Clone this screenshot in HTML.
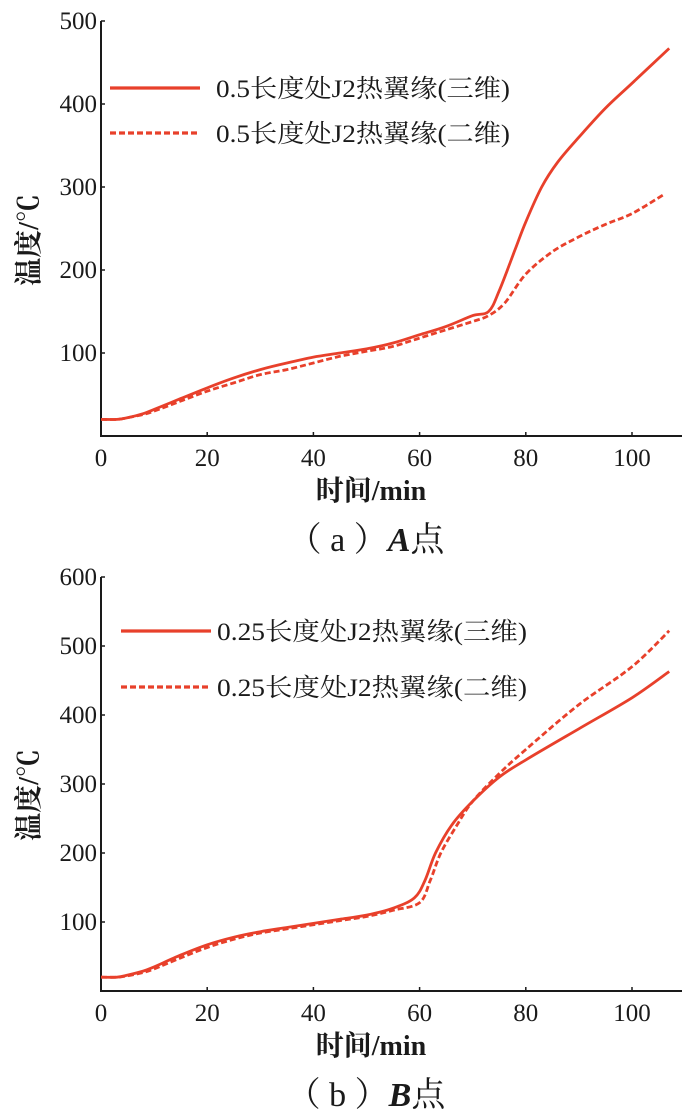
<!DOCTYPE html>
<html><head><meta charset="utf-8"><style>
body{margin:0;background:#fff;width:700px;height:1118px;overflow:hidden}
svg{display:block}
text{font-family:"Liberation Serif","Noto Serif CJK SC",serif;fill:#1a1a1a}
</style></head><body>
<svg id="c" width="700" height="1118"></svg>
<script>
const xTicks=[0,20,40,60,80,100];
const aYTicks=[100,200,300,400,500];
const bYTicks=[100,200,300,400,500,600];
const aT3=[0,3,5,8,10,15,20,25,30,35,40,45,50,55,60,65,70,73,75,78,80,83,86,90,95,100,107];
const aV3=[20,20,22,27,32,45,58,70,80,88,95,100,105,112,122,132,145,150,175,225,258,300,330,360,395,425,467];
const aT2=[0,3,5,8,10,15,20,25,30,35,40,45,50,55,60,65,70,73,76,80,85,90,95,100,106];
const aV2=[20,20,22,26,30,42,54,64,74,80,88,96,102,108,118,128,138,145,160,195,222,240,255,268,291];
const bT3=[0,3,5,8,10,15,20,25,30,35,40,45,50,55,59,61,63,66,70,75,80,90,100,107];
const bV3=[20,20,23,29,35,52,67,78,86,92,98,104,110,120,135,160,200,240,275,310,335,380,425,463];
const bT2=[0,3,5,8,10,15,20,25,30,35,40,45,50,55,60,62,64,67,70,75,80,90,100,107];
const bV2=[20,20,22,27,32,48,63,75,84,90,96,102,108,117,128,160,200,240,275,315,350,415,470,522];
const NS="http://www.w3.org/2000/svg";
const svg=document.getElementById('c');
const RED="#e8402b";
function mk(tag,attrs,parent){const e=document.createElementNS(NS,tag);for(const k in attrs)e.setAttribute(k,attrs[k]);(parent||svg).appendChild(e);return e;}
function smooth(pts){
  let d='M'+pts[0][0].toFixed(1)+' '+pts[0][1].toFixed(1);
  for(let i=0;i<pts.length-1;i++){
    const p0=pts[i-1]||pts[i],p1=pts[i],p2=pts[i+1],p3=pts[i+2]||p2;
    const c1=[p1[0]+(p2[0]-p0[0])/6,p1[1]+(p2[1]-p0[1])/6];
    const c2=[p2[0]-(p3[0]-p1[0])/6,p2[1]-(p3[1]-p1[1])/6];
    d+=` C${c1[0].toFixed(1)} ${c1[1].toFixed(1)} ${c2[0].toFixed(1)} ${c2[1].toFixed(1)} ${p2[0].toFixed(1)} ${p2[1].toFixed(1)}`;
  }
  return d;
}
function panel(cfg){
  const g=mk('g',{});
  
  
  const X=v=>101+v*5.31;
  const Y=v=>cfg.y0-(v/100)*cfg.py;
  const ax=mk('path',{d:`M101 ${Y(cfg.ymax)} V${cfg.y0} H682`,stroke:'#1a1a1a','stroke-width':2,fill:'none'},g);
  
  
  xTicks.forEach(t=>{
    mk('line',{x1:X(t),x2:X(t),y1:cfg.y0,y2:cfg.y0-4,stroke:'#1a1a1a','stroke-width':1.5},g);
    const tx=mk('text',{x:X(t),y:cfg.y0+30,'text-anchor':'middle','font-size':25},g);
    tx.textContent=t;
    
    
  });
  cfg.yTicks.forEach(t=>{
    mk('line',{x1:101,x2:105,y1:Y(t),y2:Y(t),stroke:'#1a1a1a','stroke-width':1.5},g);
    const tx=mk('text',{x:97,y:Y(t)+8,'text-anchor':'end','font-size':25},g);
    tx.textContent=t;
    
    
  });
  function line(ts,vs,dash,nm){
    const p=mk('path',{d:smooth(ts.map((t,i)=>[X(t),Y(vs[i])])),stroke:RED,'stroke-width':2.8,fill:'none','stroke-dasharray':dash?'6 3':'none','stroke-linejoin':'round'},g);
    
    
  }
  line(cfg.t3,cfg.v3,false,'series-3d');
  line(cfg.t2,cfg.v2,true,'series-2d');
  [[cfg.leg1,false,cfg.lines[0]],[cfg.leg2,true,cfg.lines[1]]].forEach(([txt,d,yy])=>{
    const l=mk('line',{x1:cfg.lx,x2:cfg.lx+90,y1:yy,y2:yy,stroke:RED,'stroke-width':3.2,'stroke-dasharray':d?'6 3':'none'},g);
    
    
    const tx=mk('text',{x:cfg.tx,y:yy+9,'font-size':25,textLength:cfg.tl,lengthAdjust:'spacingAndGlyphs'},g);
    tx.textContent=txt;
    
    
  });
  const yl=mk('text',{x:0,y:0,'font-size':28,'font-weight':'bold','text-anchor':'middle',transform:`translate(38 ${cfg.ylab}) rotate(-90)`},g);
  yl.textContent='温度/℃';
  
  
  const xl=mk('text',{x:371,y:cfg.y0+64,'font-size':28,'font-weight':'bold','text-anchor':'middle'},g);
  xl.textContent='时间/min';
  
  
  const cap=mk('text',{x:366,y:cfg.y0+115,'font-size':34,'text-anchor':'middle'},g);
  cap.innerHTML=cfg.cap;
  
  
}
panel({name:'chart-a',y0:436,py:83,ymax:500,yTicks:aYTicks,t3:aT3,v3:aV3,t2:aT2,v2:aV2,lx:110,tx:216,tl:294,lines:[88,133],
 leg1:'0.5长度处J2热翼缘(三维)',leg2:'0.5长度处J2热翼缘(二维)',ylab:240,cap:'（ a ）<tspan font-style="italic" font-weight="bold">A</tspan>点'});
panel({name:'chart-b',y0:991,py:69,ymax:600,yTicks:bYTicks,t3:bT3,v3:bV3,t2:bT2,v2:bV2,lx:121,tx:217,tl:310,lines:[631,687],
 leg1:'0.25长度处J2热翼缘(三维)',leg2:'0.25长度处J2热翼缘(二维)',ylab:795,cap:'（ b ）<tspan font-style="italic" font-weight="bold">B</tspan>点'});
</script>
</body></html>
